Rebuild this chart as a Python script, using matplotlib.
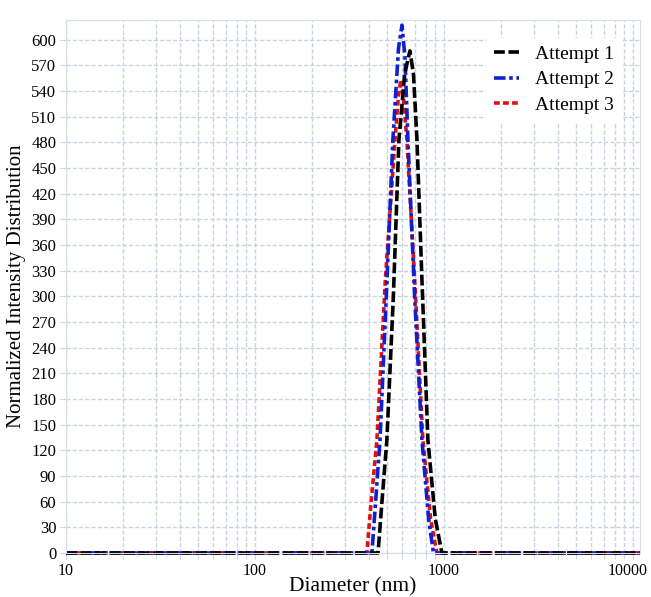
import matplotlib.pyplot as plt
import matplotlib.transforms as mtransforms
from matplotlib.ticker import MultipleLocator, LogLocator, NullFormatter

# Diameter (nm) / normalized intensity
d1 = [10, 448, 470, 499, 540, 578, 620, 661, 690, 720, 765, 823, 900, 976, 10900]
y1 = [0, 0, 60, 132, 300, 483, 560, 587, 560, 483, 320, 132, 40, 0, 0]

d2 = [10, 416, 435, 459, 500, 537, 575, 600, 622, 645, 700, 765, 830, 880, 10900]
y2 = [0, 0, 60, 132, 320, 483, 590, 617, 580, 483, 300, 132, 40, 0, 0]

d3 = [10, 391, 412, 442, 490, 551, 575, 592, 612, 637, 700, 774, 850, 918, 10900]
y3 = [0, 0, 60, 132, 320, 483, 535, 553, 530, 483, 320, 132, 40, 0, 0]

labels = ["Attempt 1", "Attempt 2", "Attempt 3"]

plt.rcParams['font.family'] = ['Liberation Serif', 'DejaVu Serif']

fig = plt.figure(figsize=(6.51, 5.97), dpi=100)
ax = fig.add_axes([0.1014, 0.0737, 0.8816, 0.8928])

grid_col = "#c9d2de"
l3, = ax.plot(d3, y3, color="#e01010", lw=2.6, ls=(0, (1.6, 0.9)), clip_on=False, label=labels[2])
l2, = ax.plot(d2, y2, color="#1020d0", lw=2.6, ls=(0, (3.2, 1.0, 1.0, 1.0)), clip_on=False, label=labels[1])
l1, = ax.plot(d1, y1, color="black", lw=2.6, ls=(0, (3.0, 1.0)), clip_on=False, label=labels[0])

ax.set_xscale("log")
ax.set_xlim(10, 10900)
ax.set_ylim(0, 623)
ax.yaxis.set_major_locator(MultipleLocator(30))
ax.xaxis.set_minor_locator(LogLocator(base=10, subs=range(2, 10), numticks=50))
ax.xaxis.set_minor_formatter(NullFormatter())
ax.set_xticks([10, 100, 1000, 10000])
ax.set_xticklabels(["10", "100", "1000", "10000"])

ax.grid(True, which="major", color=grid_col, ls=(0, (3, 1.5)), lw=1.0)
ax.grid(True, which="minor", axis="x", color=grid_col, ls=(0, (3, 1.5)), lw=1.0)
for s in ax.spines.values():
    s.set_color("#d8dee6")
ax.tick_params(which="both", color=grid_col, length=4)
ax.tick_params(axis="y", labelsize=12, pad=3)
ax.tick_params(axis="x", labelsize=11.5, pad=3)

# keep the last tick label inside the picture
lab = ax.get_xticklabels()[-1]
lab.set_transform(lab.get_transform() + mtransforms.ScaledTranslation(-5 / 100, 0, fig.dpi_scale_trans))

ax.set_xlabel("Diameter (nm)", fontsize=15.5, labelpad=-1)
ax.set_ylabel("Normalized Intensity Distribution", fontsize=15, labelpad=4)

leg = ax.legend(handles=[l1, l2, l3], loc="upper right", fontsize=14,
                frameon=True, framealpha=1, edgecolor="white",
                handlelength=1.3, borderaxespad=0.5, labelspacing=0.4,
                bbox_to_anchor=(0.985, 0.985))

fig.savefig("out.png", dpi=100)
